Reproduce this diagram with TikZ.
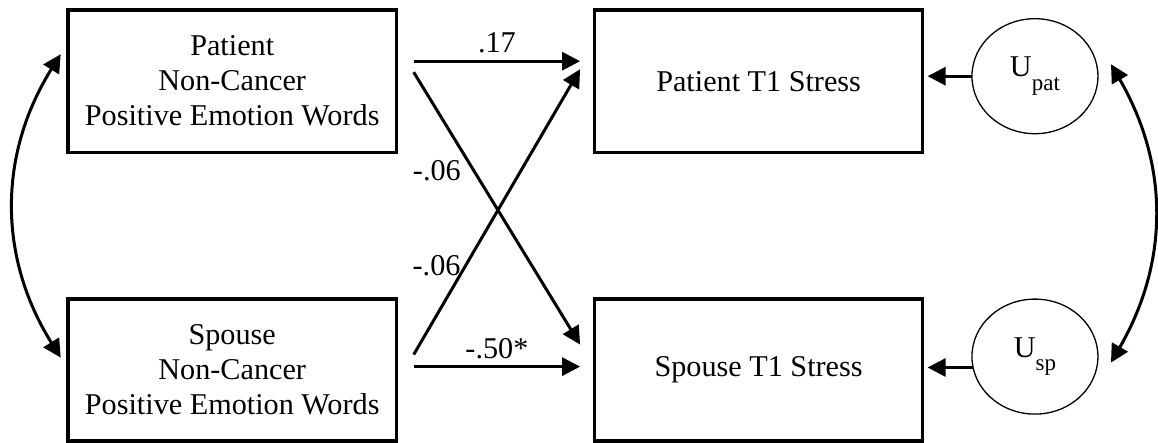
\documentclass[tikz,border=0pt]{standalone}
\usepackage{fontspec}
\setmainfont{Liberation Serif}
\usetikzlibrary{arrows.meta,shapes.geometric}
\begin{document}
\begin{tikzpicture}[x=1pt,y=-1pt,
   font=\fontsize{30.2}{35}\selectfont,
   every matrix/.style={ampersand replacement=\&,column sep=47pt,row sep=143.5pt},
   box/.style={draw,line width=3.4pt,minimum width=328pt,minimum height=142pt,align=center,inner sep=0pt,anchor=center},
   resid/.style={draw,ellipse,line width=1.3pt,minimum width=126pt,minimum height=115pt,inner sep=0pt,anchor=center},
   to/.style={-{Triangle[length=18pt,width=18pt]},line width=3pt},
   cov/.style={{Triangle[length=18pt,width=18pt]}-{Triangle[length=18pt,width=18pt]},line width=3pt}]
\useasboundingbox (0,0) rectangle (1158,443);
\matrix[anchor=north west,inner sep=0pt,outer sep=0pt] at (66.5,8.5) {
\node[box] (PE) {Patient\\Non-Cancer\\Positive Emotion Words};\&[148pt]\node[box] (PS) {Patient T1 Stress};\&\node[resid,yshift=5pt] (UP) {U\raisebox{-.45em}{\fontsize{23}{23}\selectfont pat}};\\
\node[box] (SE) {Spouse\\Non-Cancer\\Positive Emotion Words};\&[148pt]\node[box] (SS) {Spouse T1 Stress};\&\node[resid,yshift=13.5pt] (US) {U\raisebox{-.45em}{\fontsize{23}{23}\selectfont sp}};\\
};
% paths
\draw[to] ([xshift=17.5pt,yshift=20pt]PE.east) -- node[above=3pt] {.17} ([xshift=-14.5pt,yshift=20pt]PS.west);
\draw[to] ([xshift=17.5pt,yshift=9pt]PE.east) -- node[pos=.36,left=8pt] {-.06} ([xshift=-14.5pt,yshift=25.5pt]SS.west);
\draw[to] ([xshift=17.5pt,yshift=15.5pt]SE.east) -- node[pos=.31,left=0pt] {-.06} ([xshift=-14.5pt,yshift=12pt]PS.west);
\draw[to] ([xshift=17.5pt,yshift=3.5pt]SE.east) -- node[above=3pt] {-.50*} ([xshift=-14.5pt,yshift=3.5pt]SS.west);
% residuals
\draw[to,shorten >=5pt] (UP.west) -- (UP.west -| PS.east);
\draw[to,shorten >=5pt] (US.190) -- (US.190 -| SS.east);
% covariances
\draw[cov] ([xshift=-7.5pt,yshift=27pt]PE.west) to[bend right=32] ([xshift=-7.5pt,yshift=12.5pt]SE.west);
\draw[cov] ([xshift=13pt,yshift=12pt]UP.east) to[bend left=30] ([xshift=13pt,yshift=-6pt]US.east);
\end{tikzpicture}
\end{document}
